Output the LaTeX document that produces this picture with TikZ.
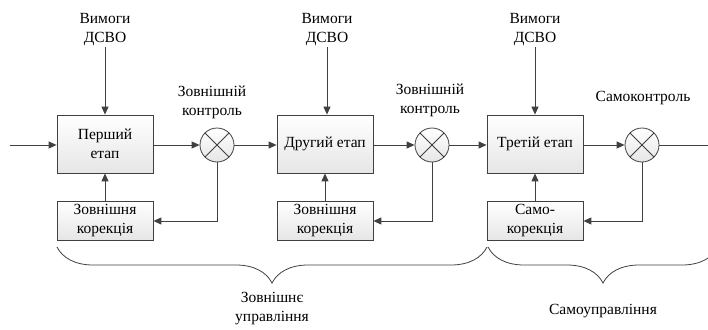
\documentclass[tikz,border=0pt]{standalone}
\usepackage{fontspec}
\setmainfont{Liberation Serif}
\usetikzlibrary{arrows.meta,decorations.pathreplacing}

\tikzset{
	etap/.style={draw=black!75, line width=0.8pt, top color=white, bottom color=black!10,
		minimum width=96pt, minimum height=58pt, align=center, inner sep=2pt},
	korekcia/.style={etap, minimum height=39pt},
	sumator/.style={circle, draw=black!75, line width=0.8pt, top color=white, bottom color=black!10,
		minimum size=34pt, inner sep=0pt,
		path picture={\draw[black!75, line width=0.8pt]
			(path picture bounding box.north west) -- (path picture bounding box.south east)
			(path picture bounding box.north east) -- (path picture bounding box.south west);}},
	napys/.style={align=center, inner sep=1pt},
	strilka/.style={draw=black!75, line width=1pt, -{Triangle[length=8pt,width=7pt]}},
	liniia/.style={draw=black!75, line width=1pt},
	duzhka/.style={draw=black!75, line width=0.8pt, decorate,
		decoration={brace, mirror, amplitude=36pt, aspect=0.5}}
}

\begin{document}
\begin{tikzpicture}[x=1pt, y=-1pt, font=\fontsize{15.5}{19}\selectfont]
	\useasboundingbox (0,0) rectangle (708,329);

	% Etapy
	\node[etap] (s1) at (105, 144) {Перший\\етап};
	\node[etap] (s2) at (325, 144) {Другий етап};
	\node[etap] (s3) at (535, 144) {Третій етап};

	% Korekcia
	\node[korekcia] (k1) at (105, 221) {Зовнішня\\корекція};
	\node[korekcia] (k2) at (325, 221) {Зовнішня\\корекція};
	\node[korekcia] (k3) at (535, 221) {Само-\\корекція};

	% Kontrol
	\node[sumator] (c1) at (217, 145) {};
	\node[sumator] (c2) at (432, 145) {};
	\node[sumator] (c3) at (642, 145) {};

	% Napysy
	\node[napys] (v1) at (105, 30) {Вимоги\\ДСВО};
	\node[napys] (v2) at (327, 30) {Вимоги\\ДСВО};
	\node[napys] (v3) at (535, 30) {Вимоги\\ДСВО};
	\node[napys] (z1) at (212, 102) {Зовнішній\\контроль};
	\node[napys] (z2) at (430, 100) {Зовнішній\\контроль};
	\node[napys] (z3) at (643, 98) {Самоконтроль};
	\node[napys] (u1) at (272, 309) {Зовнішнє\\управління};
	\node[napys] (u2) at (603, 311) {Самоуправління};

	\coordinate (vhid) at (10, 145);
	\coordinate (vyhid) at (708, 145);

	% Strilky
	\draw[strilka] (vhid) -- (s1.west |- vhid);
	\draw[strilka] (v1) -- (s1);
	\draw[strilka] (v2) -- (s2.north -| v2);
	\draw[strilka] (v3) -- (s3);
	\draw[strilka] (s1.east |- c1) -- (c1);
	\draw[strilka] (c1) -- (s2.west |- c1);
	\draw[strilka] (s2.east |- c2) -- (c2);
	\draw[strilka] (c2) -- (s3.west |- c2);
	\draw[strilka] (s3.east |- c3) -- (c3);
	\draw[liniia] (c3) -- (vyhid);

	% Zvorotnyi zviazok
	\draw[strilka] (c1.south) |- (k1.east);
	\draw[strilka] (c2.south) |- (k2.east);
	\draw[strilka] (c3.south) |- (k3.east);
	\draw[strilka] (k1) -- (s1);
	\draw[strilka] (k2) -- (s2);
	\draw[strilka] (k3) -- (s3);

	% Duzhky
	\draw[duzhka] (57, 247) -- (487, 247);
	\draw[duzhka] (488, 247) -- (718, 247);
\end{tikzpicture}
\end{document}
